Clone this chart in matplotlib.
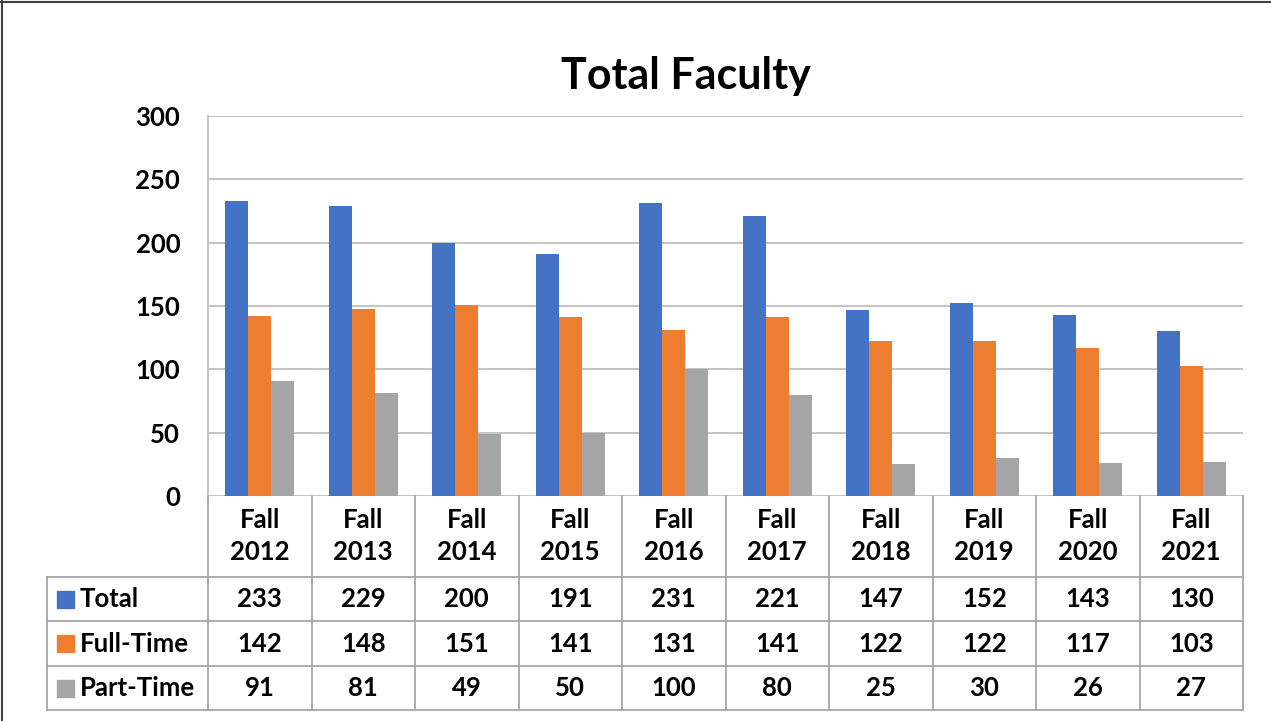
import numpy as np
import matplotlib
matplotlib.use('Agg')
import matplotlib.pyplot as plt
from matplotlib.lines import Line2D
from matplotlib.patches import Rectangle

# ------------------------------------------------------------------------------
years = ['Fall\n2012', 'Fall\n2013', 'Fall\n2014', 'Fall\n2015', 'Fall\n2016',
         'Fall\n2017', 'Fall\n2018', 'Fall\n2019', 'Fall\n2020', 'Fall\n2021']
total = [233, 229, 200, 191, 231, 221, 147, 152, 143, 130]
full_time = [142, 148, 151, 141, 131, 141, 122, 122, 117, 103]
part_time = [91, 81, 49, 50, 100, 80, 25, 30, 26, 27]
series_names = ['Total', 'Full-Time', 'Part-Time']
colors = ['#4472C4', '#ED7D31', '#A5A5A5']
yticks = [0, 50, 100, 150, 200, 250, 300]

# ------------------------------------------------------------------------------
plt.rcParams['font.family'] = ['Lato', 'DejaVu Sans']
plt.rcParams['font.weight'] = 'bold'

W, H = 1271, 721
fig = plt.figure(figsize=(W / 100, H / 100), dpi=100)
fig.patch.set_facecolor('white')

def px_rect(x0, y0, x1, y1):
    return [x0 / W, 1 - y1 / H, (x1 - x0) / W, (y1 - y0) / H]

fs = 18.5
grid_c = '#BFBFBF'
ax = fig.add_axes(px_rect(208, 116, 1243, 496))
x = np.arange(len(years))
bw = 0.222
for i, vals in enumerate([total, full_time, part_time]):
    ax.bar(x + (i - 1) * bw, vals, width=bw, color=colors[i], zorder=3)
ax.set_xlim(-0.5, len(years) - 0.5)
ax.set_ylim(0, 300)
ax.set_yticks(yticks)
ax.set_yticklabels([str(t) for t in yticks], fontsize=fs, fontweight='bold')
ax.tick_params(axis='y', length=0, pad=20)
ax.set_xticks([])
ax.grid(axis='y', color=grid_c, linewidth=1.3, zorder=0)
for s in ['top', 'right', 'bottom']:
    ax.spines[s].set_visible(False)
ax.spines['left'].set_color(grid_c)
ax.spines['left'].set_linewidth(1.3)

# data table under the plot
tax = fig.add_axes(px_rect(47, 496, 1243, 710))
colw = (1243 - 208) / len(years)
left = -0.5 - (208 - 47) / colw
tax.set_xlim(left, len(years) - 0.5)
tax.set_ylim(0, 214)
tax.invert_yaxis()
tax.axis('off')
rows_y = [0, 81, 125, 170, 214]
lc = '#A6A6A6'
for yy in rows_y[1:]:
    tax.plot([left, len(years) - 0.5], [yy, yy], color=lc, lw=1.3, clip_on=False)
for k in range(len(years) + 1):
    tax.plot([k - 0.5, k - 0.5], [0, 214], color=lc, lw=1.3, clip_on=False)
tax.plot([left, left], [81, 214], color=lc, lw=1.3, clip_on=False)

for k, lab in enumerate(years):
    tax.text(k, 40, lab, ha='center', va='center', fontsize=fs,
             fontweight='bold', linespacing=1.45)
for r, vals in enumerate([total, full_time, part_time]):
    yc = (rows_y[r + 1] + rows_y[r + 2]) / 2
    for k, v in enumerate(vals):
        tax.text(k, yc, str(v), ha='center', va='center', fontsize=fs,
                 fontweight='bold')
    tax.add_patch(Rectangle((left + 0.1, yc - 8.5), 0.165, 17,
                            color=colors[r], clip_on=False))
    tax.text(left + 0.32, yc, series_names[r], ha='left', va='center',
             fontsize=fs, fontweight='bold')

fig.text(686 / W, 1 - 76 / H, 'Total Faculty', ha='center', va='center',
         fontsize=31, fontweight='bold')

# outer frame (top and left visible)
fig.add_artist(Line2D([0, 1], [1 - 2 / H, 1 - 2 / H], color='#404040', lw=1.5))
fig.add_artist(Line2D([2 / W, 2 / W], [0, 1], color='#404040', lw=1.5))

fig.savefig('out.png', dpi=100, facecolor='white')
